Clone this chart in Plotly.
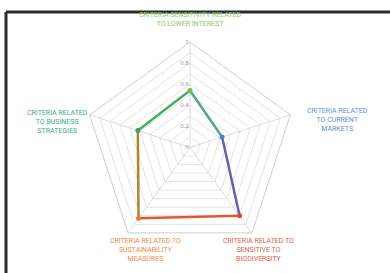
import plotly.graph_objects as go

categories = [
    "CRITERIA SENSITIVITY RELATED<br>TO LOWER INTEREST",
    "CRITERIA RELATED<br>TO CURRENT<br>MARKETS",
    "CRITERIA RELATED TO<br>SENSITIVE TO<br>BIODIVERSITY",
    "CRITERIA RELATED TO<br>SUSTAINABILITY<br>MEASURES",
    "CRITERIA RELATED<br>TO BUSINESS<br>STRATEGIES",
]
values = [0.54, 0.32, 0.8, 0.83, 0.52]
vertex_colors = ["#6cc04a", "#4a86c8", "#d9483a", "#ee7a2c", "#3aa070"]
segment_colors = ["#52a888", "#6a5fae", "#e2582f", "#b4822e", "#4cac5e"]
label_colors = ["#86c96a", "#5b95d2", "#e0604e", "#f08a3e", "#3daa88"]
tick_vals = [0, 0.1, 0.2, 0.3, 0.4, 0.5, 0.6, 0.7, 0.8, 0.9, 1.0]
tick_text = ["0", "", "0.2", "", "0.4", "", "0.6", "", "0.8", "", "1"]

W, H = 390, 273
L, R, T, B = 60, 70, 42, 20
pw, ph = W - L - R, H - T - B

def px(x):
    return (x - L) / pw

def py(y):
    return (H - B - y) / ph

fig = go.Figure()
n = len(categories)
for i in range(n):
    j = (i + 1) % n
    fig.add_trace(go.Scatterpolar(
        r=[values[i], values[j]], theta=[categories[i], categories[j]],
        mode="lines", line=dict(color=segment_colors[i], width=2.5),
        hoverinfo="skip", showlegend=False))
fig.add_trace(go.Scatterpolar(
    r=values, theta=categories, mode="markers",
    marker=dict(color=vertex_colors, size=5), showlegend=False))

label_pos = [(190, 19), (337, 120), (258, 250), (145, 250), (57, 122)]
for cat, col, (x, y) in zip(categories, label_colors, label_pos):
    fig.add_annotation(text=cat, x=px(x), y=py(y), xref="paper", yref="paper",
                       showarrow=False, font=dict(size=7, color=col, family="Roboto"),
                       align="center", xanchor="center", yanchor="middle")

# dark frame edges (top and left)
fig.add_shape(type="line", xref="paper", yref="paper",
              x0=px(6), y0=py(12), x1=px(400), y1=py(12),
              line=dict(color="#2b2b2b", width=3), layer="below")
fig.add_shape(type="line", xref="paper", yref="paper",
              x0=px(6), y0=py(12), x1=px(6), y1=py(290),
              line=dict(color="#2b2b2b", width=3), layer="below")

fig.update_layout(
    width=W, height=H,
    margin=dict(l=L, r=R, t=T, b=B),
    paper_bgcolor="white", plot_bgcolor="white",
    showlegend=False,
    polar=dict(
        bgcolor="white",
        gridshape="linear",
        domain=dict(x=[0, 1], y=[0, 1]),
        angularaxis=dict(rotation=90, direction="clockwise", showticklabels=False,
                         ticks="", gridcolor="#dcdcdc", linecolor="#cfcfcf", linewidth=1),
        radialaxis=dict(range=[0, 1], angle=90, tickangle=90, side="counterclockwise",
                        tickvals=tick_vals, ticktext=tick_text,
                        tickfont=dict(size=6, color="#888888"),
                        showline=False, ticks="", gridcolor="#e3e3e3"),
    ),
)

fig.write_html("out.html", config={"displayModeBar": False},
               post_script="document.body.style.margin='0';")
